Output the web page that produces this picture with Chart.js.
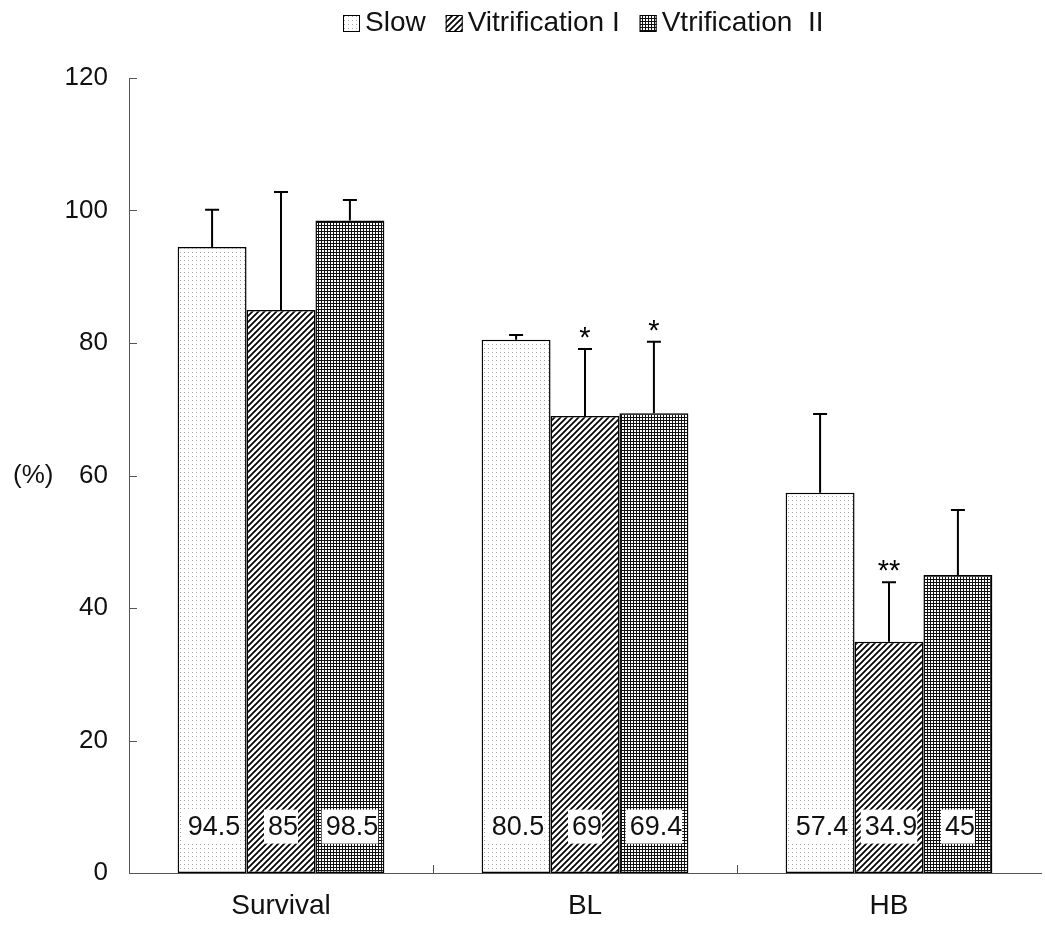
<!DOCTYPE html>
<html>
<head>
<meta charset="utf-8">
<script src="https://cdn.jsdelivr.net/npm/chart.js@4.4.0/dist/chart.umd.min.js"></script>
<style>
  body { margin: 0; background: #fff; }
  #wrap { width: 1045px; height: 927px; }
</style>
</head>
<body>
<div id="wrap"><canvas id="chart"></canvas></div>
<script>
const categories = ["Survival", "BL", "HB"];
const seriesNames = ["Slow", "Vitrification I", "Vtrification  II"];
const slowValues = [94.5, 80.5, 57.4];
const vitOneValues = [85, 69, 34.9];
const vitTwoValues = [98.5, 69.4, 45];
const slowErrors = [5.6, 0.7, 11.9];
const vitOneErrors = [17.8, 10.1, 9.0];
const vitTwoErrors = [3.1, 10.8, 9.8];
const slowMarks = ["", "", ""];
const vitOneMarks = ["", "*", "**"];
const vitTwoMarks = ["", "*", ""];
const yMin = 0, yMax = 120, yStep = 20;

const FONT = "'Liberation Sans', Arial, sans-serif";

function makePattern(size, draw) {
  const c = document.createElement("canvas");
  c.width = size;
  c.height = size;
  const g = c.getContext("2d");
  g.fillStyle = "#fff";
  g.fillRect(0, 0, size, size);
  draw(g, size);
  return g.createPattern(c, "repeat");
}

const dots = makePattern(4, (g) => {
  g.fillStyle = "#a8a8a8";
  g.fillRect(0, 0, 1, 1);
});
const hatch = makePattern(6, (g, s) => {
  g.strokeStyle = "#000";
  g.lineWidth = 1.7;
  g.beginPath();
  g.moveTo(0, s); g.lineTo(s, 0);
  g.moveTo(-1, 1); g.lineTo(1, -1);
  g.moveTo(s - 1, s + 1); g.lineTo(s + 1, s - 1);
  g.stroke();
});
const grid = makePattern(3, (g) => {
  g.fillStyle = "#111";
  g.fillRect(0, 0, 3, 1);
  g.fillRect(0, 0, 1, 3);
});

const fills = [dots, hatch, grid];

const extras = {
  id: "extras",
  afterDatasetsDraw(chart) {
    const { ctx, scales: { x, y } } = chart;
    ctx.save();
    chart.data.datasets.forEach((ds, di) => {
      const meta = chart.getDatasetMeta(di);
      meta.data.forEach((bar, i) => {
        // upper error bar
        const top = y.getPixelForValue(ds.data[i] + ds.errors[i]);
        ctx.strokeStyle = "#000";
        ctx.lineWidth = 2;
        ctx.beginPath();
        ctx.moveTo(bar.x, bar.y);
        ctx.lineTo(bar.x, top);
        ctx.moveTo(bar.x - 7, top);
        ctx.lineTo(bar.x + 7, top);
        ctx.stroke();

        // significance stars
        if (ds.marks[i]) {
          ctx.fillStyle = "#000";
          ctx.font = "29px " + FONT;
          ctx.textAlign = "center";
          ctx.textBaseline = "middle";
          ctx.fillText(ds.marks[i], bar.x, top - 10);
        }

        // value label with white box
        const label = String(ds.data[i]);
        ctx.font = "27px " + FONT;
        const w = ctx.measureText(label).width;
        const cy = y.getPixelForValue(7);
        ctx.fillStyle = "#fff";
        ctx.fillRect(bar.x - w / 2 - 2, cy - 17, w + 4, 34);
        ctx.fillStyle = "#111";
        ctx.textAlign = "center";
        ctx.textBaseline = "middle";
        ctx.fillText(label, bar.x + 2, cy + 1);
      });
    });
    ctx.restore();
  },
  afterDraw(chart) {
    const { ctx, chartArea, scales: { x, y } } = chart;
    ctx.save();
    ctx.strokeStyle = "#555";
    ctx.lineWidth = 1;
    // inward y ticks
    for (let v = yMin; v <= yMax; v += yStep) {
      const py = Math.round(y.getPixelForValue(v)) + 0.5;
      ctx.beginPath();
      ctx.moveTo(chartArea.left, py);
      ctx.lineTo(chartArea.left + 8, py);
      ctx.stroke();
    }
    // category separators pointing up
    for (let i = 1; i < categories.length; i++) {
      const px = Math.round((x.getPixelForValue(i - 1) + x.getPixelForValue(i)) / 2) + 0.5;
      ctx.beginPath();
      ctx.moveTo(px, chartArea.bottom);
      ctx.lineTo(px, chartArea.bottom - 8);
      ctx.stroke();
    }
    // (%) label
    ctx.fillStyle = "#111";
    ctx.font = "26px " + FONT;
    ctx.textAlign = "left";
    ctx.textBaseline = "middle";
    ctx.fillText("(%)", 13, y.getPixelForValue(60));

    // legend
    ctx.font = "28px " + FONT;
    let lx = 343;
    const ly = 23;
    seriesNames.forEach((name, i) => {
      ctx.fillStyle = fills[i];
      ctx.fillRect(lx, ly - 8, 17, 17);
      ctx.strokeStyle = "#000";
      ctx.lineWidth = 1;
      ctx.strokeRect(lx + 0.5, ly - 7.5, 16, 16);
      ctx.fillStyle = "#111";
      ctx.textAlign = "left";
      ctx.textBaseline = "middle";
      ctx.fillText(name, lx + 22, ly);
      lx += 22 + ctx.measureText(name).width + 20;
    });
    ctx.restore();
  }
};

const datasets = [
  { label: seriesNames[0], data: slowValues, errors: slowErrors, marks: slowMarks, backgroundColor: dots },
  { label: seriesNames[1], data: vitOneValues, errors: vitOneErrors, marks: vitOneMarks, backgroundColor: hatch },
  { label: seriesNames[2], data: vitTwoValues, errors: vitTwoErrors, marks: vitTwoMarks, backgroundColor: grid }
].map(d => Object.assign(d, {
  borderColor: "#000",
  borderWidth: 1.5,
  borderSkipped: false,
  categoryPercentage: 0.68,
  barPercentage: 1.0
}));

new Chart(document.getElementById("chart"), {
  type: "bar",
  data: { labels: categories, datasets: datasets },
  options: {
    responsive: true,
    maintainAspectRatio: false,
    animation: false,
    layout: { padding: { top: 78, right: 4, left: 0, bottom: 0 } },
    plugins: {
      legend: { display: false },
      tooltip: { enabled: false }
    },
    scales: {
      x: {
        grid: { display: false, drawTicks: false },
        border: { display: true, color: "#555", width: 1 },
        ticks: {
          padding: 16,
          color: "#111",
          font: { family: FONT, size: 28 }
        },
        afterFit(scale) { scale.height = 54; }
      },
      y: {
        min: yMin,
        max: yMax,
        grid: { display: false, drawTicks: false },
        border: { display: true, color: "#555", width: 1 },
        ticks: {
          stepSize: yStep,
          padding: 21,
          color: "#111",
          font: { family: FONT, size: 26 }
        },
        afterFit(scale) { scale.width = 129; }
      }
    }
  },
  plugins: [extras]
});
</script>
</body>
</html>
